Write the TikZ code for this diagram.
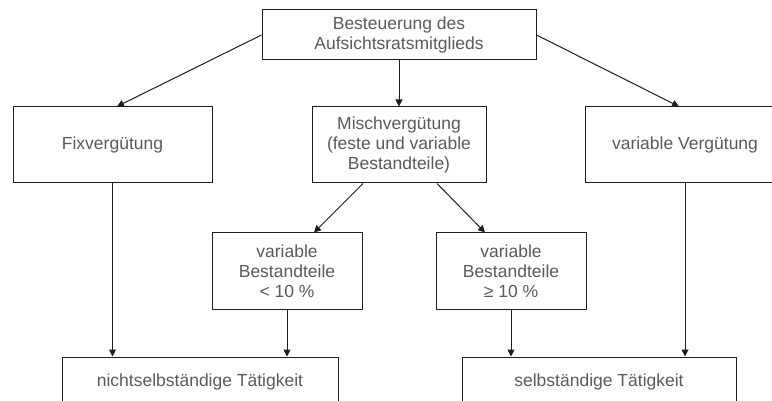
\documentclass[tikz,border=0pt]{standalone}
\usepackage{fontspec}
\setmainfont{Liberation Sans}
\usetikzlibrary{arrows.meta}
\definecolor{txtgray}{RGB}{90,90,90}
\definecolor{linegray}{RGB}{30,30,30}
\tikzset{
  box/.style={draw=linegray, line width=1pt, rectangle, inner sep=0pt, align=center,
    text=txtgray, font=\fontsize{17.5}{20}\selectfont},
  conn/.style={draw=linegray, line width=1pt, -{Triangle[length=7pt,width=7pt]}}
}
\begin{document}
\begin{tikzpicture}[x=1pt,y=-1pt]
\useasboundingbox (0,0) rectangle (772,401);
\clip (0,0) rectangle (772,401);
\node[box, minimum width=274pt, minimum height=50pt] (top) at (399,35) {Besteuerung des\\Aufsichtsratsmitglieds};
\node[box, minimum width=199pt, minimum height=76pt] (fix) at (112.5,145) {Fixvergütung};
\node[box, minimum width=174pt, minimum height=76pt] (misch) at (399,145) {Mischvergütung\\(feste und variable\\Bestandteile)};
\node[box, minimum width=200pt, minimum height=76pt] (var) at (685,145) {variable Vergütung};
\node[box, minimum width=150pt, minimum height=76pt] (klein) at (287,271) {variable\\Bestandteile\\< 10 \%};
\node[box, minimum width=150pt, minimum height=76pt] (gross) at (511,271) {variable\\Bestandteile\\≥ 10 \%};
\node[box, minimum width=276pt, minimum height=50pt] (nsa) at (200,382) {nichtselbständige Tätigkeit};
\node[box, minimum width=274pt, minimum height=50pt] (sa) at (599,382) {selbständige Tätigkeit};
\draw[conn] (top.west) -- ([xshift=4.5pt]fix.north);
\draw[conn] (top.east) -- ([xshift=-6pt]var.north);
\draw[conn] (top.south) -- (misch.north);
\draw[conn] ([xshift=-36pt]misch.south) -- ([xshift=27pt]klein.north);
\draw[conn] ([xshift=38pt]misch.south) -- ([xshift=-26pt]gross.north);
\draw[conn] (fix.south) -- (fix.south |- nsa.north);
\draw[conn] (klein.south) -- (klein.south |- nsa.north);
\draw[conn] (gross.south) -- (gross.south |- sa.north);
\draw[conn] (var.south) -- (var.south |- sa.north);
\end{tikzpicture}
\end{document}
